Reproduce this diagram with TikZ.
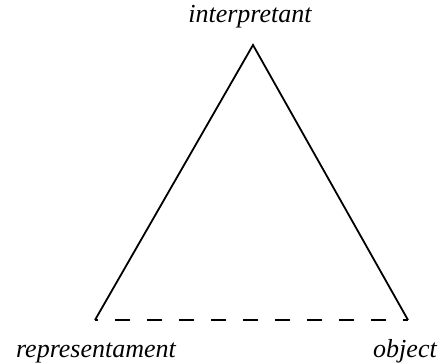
\documentclass[tikz,border=0pt]{standalone}
\usepackage{fontspec}
\setmainfont{Liberation Serif}
\usetikzlibrary{positioning}

\begin{document}
\begin{tikzpicture}[
  x=1pt, y=-1pt,
  corner text/.style={font=\fontsize{26}{30}\selectfont\itshape, inner sep=0pt, anchor=base},
  side/.style={line width=1.8pt},
  gap side/.style={line width=2.6pt, dash pattern=on 15pt off 17pt, dash phase=12pt}
]
\useasboundingbox (0,0) rectangle (439,362);
\coordinate (apex) at (253,45);
\coordinate (rep) at (95,320);
\coordinate (obj) at (408,320);
\node[corner text, above=23pt of apex, anchor=base, xshift=-3pt] (interpretant) {interpretant};
\node[corner text, below=37pt of rep, anchor=base, xshift=1pt] (representament) {representament};
\node[corner text, below=37pt of obj, anchor=base, xshift=-3pt] (object) {object};
\draw[side] (rep) -- (apex) -- (obj);
\draw[gap side] (rep) -- (obj);
\end{tikzpicture}
\end{document}
